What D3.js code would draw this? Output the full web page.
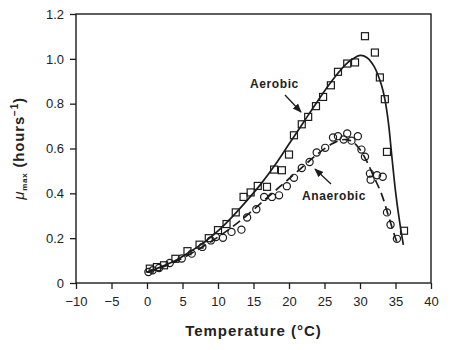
<!DOCTYPE html>
<html><head><meta charset="utf-8">
<script src="https://cdn.jsdelivr.net/npm/d3@7"></script>
<style>
html,body{margin:0;padding:0;background:#fff;}
svg{display:block;font-family:"Liberation Sans",Arial,sans-serif;}
</style></head>
<body><svg id="c" width="460" height="350"></svg>
<script>
// ---- data ----
const xTicks = [-10,-5,0,5,10,15,20,25,30,35,40];
const xTickLabels = ["\u221210","\u22125","0","5","10","15","20","25","30","35","40"];
const yTicks = [0,0.2,0.4,0.6,0.8,1.0,1.2];
const yTickLabels = ["0","0.2","0.4","0.6","0.8","1.0","1.2"];

const aerobicT  = [0.4,1.4,2.4,4.0,5.7,7.4,8.7,10.0,11.2,12.5,13.6,14.6,15.6,16.9,17.9,19.0,20.0,20.7,21.8,22.7,23.8,24.8,25.9,26.9,28.2,29.3,30.7,32.1,32.8,33.5,33.8,36.2];
const aerobicMu = [0.064,0.071,0.079,0.108,0.142,0.171,0.200,0.236,0.263,0.315,0.384,0.404,0.433,0.429,0.506,0.503,0.573,0.659,0.708,0.741,0.789,0.830,0.882,0.942,0.979,0.984,1.101,1.028,0.917,0.820,0.585,0.233];

const anaerobicT  = [0.2,0.8,1.7,3.2,4.9,6.3,7.8,9.0,9.7,10.7,11.9,13.3,14.1,15.4,16.5,17.6,18.6,19.7,20.7,21.8,22.9,23.9,25.1,26.2,26.9,27.7,28.2,28.8,29.7,30.2,30.7,31.4,31.5,32.4,33.2,33.8,34.3,35.2];
const anaerobicMu = [0.049,0.057,0.067,0.089,0.109,0.131,0.161,0.190,0.205,0.202,0.228,0.238,0.292,0.329,0.384,0.384,0.391,0.432,0.469,0.513,0.540,0.582,0.603,0.649,0.655,0.640,0.667,0.635,0.655,0.595,0.563,0.488,0.461,0.481,0.474,0.315,0.260,0.197];

// fitted curves
const aerobicFitT  = [0,2,4,6,8,10,12,14,16,18,20,22,24,26,28,29,30,31,32,33,33.5,34,34.5,35,35.5,36.1];
const aerobicFitMu = [0.048,0.072,0.100,0.138,0.180,0.232,0.295,0.365,0.440,0.525,0.620,0.715,0.810,0.900,0.975,1.000,1.015,1.005,0.965,0.885,0.820,0.715,0.560,0.410,0.290,0.170];
const anaerobicFitT  = [0,2,4,6,8,10,12,14,16,18,20,22,24,26,27,28,29,30,31,32,33,34,35,35.4];
const anaerobicFitMu = [0.048,0.068,0.095,0.128,0.165,0.205,0.250,0.300,0.355,0.410,0.465,0.520,0.575,0.620,0.635,0.640,0.630,0.595,0.540,0.470,0.400,0.300,0.200,0.165];

// ---- layout ----
const svg = d3.select("#c");
const L = 76, R = 431, T = 14, B = 283;
const x = d3.scaleLinear().domain([-10,40]).range([L,R]);
const y = d3.scaleLinear().domain([0,1.2]).range([B,T]);
const ink = "#1c1c1c";

// frame
svg.append("rect").attr("x",L).attr("y",T).attr("width",R-L).attr("height",B-T)
  .attr("fill","none").attr("stroke",ink).attr("stroke-width",1.4);

// axes
const xAxis = d3.axisBottom(x).tickValues(xTicks).tickSize(6).tickPadding(5)
  .tickFormat((d,i)=>xTickLabels[i]);
const gx = svg.append("g").attr("transform",`translate(0,${B})`).call(xAxis);
const yAxis = d3.axisLeft(y).tickValues(yTicks).tickSize(6).tickPadding(5)
  .tickFormat((d,i)=>yTickLabels[i]);
const gy = svg.append("g").attr("transform",`translate(${L},0)`).call(yAxis);
[gx,gy].forEach(g=>{
  g.select(".domain").remove();
  g.selectAll(".tick line").attr("stroke",ink).attr("stroke-width",1.3);
  g.selectAll(".tick text").attr("fill","#222").style("font-size","13px")
    .style("font-family","'Liberation Sans',Arial,sans-serif");
});
gx.selectAll(".tick text").attr("dy","0.9em");
gy.selectAll(".tick text").attr("dx","-1");

// curves
const line = d3.line().x(d=>x(d[0])).y(d=>y(d[1])).curve(d3.curveCatmullRom.alpha(0.5));
svg.append("path").datum(aerobicFitT.map((t,i)=>[t,aerobicFitMu[i]]))
  .attr("d",line).attr("fill","none").attr("stroke",ink).attr("stroke-width",1.7);
svg.append("path").datum(anaerobicFitT.map((t,i)=>[t,anaerobicFitMu[i]]))
  .attr("d",line).attr("fill","none").attr("stroke",ink).attr("stroke-width",1.7)
  .attr("stroke-dasharray","9,5");

// points
const s = 7;
svg.append("g").selectAll("rect").data(aerobicT.map((t,i)=>[t,aerobicMu[i]])).join("rect")
  .attr("x",d=>x(d[0])-s/2).attr("y",d=>y(d[1])-s/2).attr("width",s).attr("height",s)
  .attr("fill","none").attr("stroke",ink).attr("stroke-width",1.2);
svg.append("g").selectAll("circle").data(anaerobicT.map((t,i)=>[t,anaerobicMu[i]])).join("circle")
  .attr("cx",d=>x(d[0])).attr("cy",d=>y(d[1])).attr("r",3.6)
  .attr("fill","none").attr("stroke",ink).attr("stroke-width",1.2);

// annotations
const defs = svg.append("defs");
defs.append("marker").attr("id","ah").attr("viewBox","0 0 10 10").attr("refX",9).attr("refY",5)
  .attr("markerWidth",7).attr("markerHeight",7).attr("orient","auto")
  .append("path").attr("d","M0,1 L10,5 L0,9 Z").attr("fill",ink);
svg.append("text").attr("x",250).attr("y",88).text("Aerobic")
  .attr("fill","#222").style("font-size","12px").style("font-weight","bold").style("letter-spacing","0.6px");
svg.append("line").attr("x1",285).attr("y1",95).attr("x2",301).attr("y2",112)
  .attr("stroke",ink).attr("stroke-width",1.3).attr("marker-end","url(#ah)");
svg.append("text").attr("x",302).attr("y",200).text("Anaerobic")
  .attr("fill","#222").style("font-size","12px").style("font-weight","bold").style("letter-spacing","0.6px");
svg.append("line").attr("x1",331).attr("y1",184).attr("x2",315).attr("y2",169)
  .attr("stroke",ink).attr("stroke-width",1.3).attr("marker-end","url(#ah)");

// axis titles
svg.append("text").attr("x",(L+R)/2).attr("y",336).attr("text-anchor","middle")
  .attr("fill","#222").style("font-size","15px").style("font-weight","bold").style("letter-spacing","1px")
  .text("Temperature (\u00B0C)");
const yl = svg.append("text").attr("transform",`translate(24,${(T+B)/2}) rotate(-90)`)
  .attr("text-anchor","middle").attr("fill","#222").style("font-size","15px").style("letter-spacing","0.8px");
yl.append("tspan").text("\u03BC").style("font-style","italic");
yl.append("tspan").text("max").attr("dy","3").style("font-size","8px").style("font-weight","bold");
yl.append("tspan").text("  (hours").attr("dy","-3").style("font-weight","bold");
yl.append("tspan").text("\u22121").attr("dy","-6").style("font-size","10px").style("font-weight","bold");
yl.append("tspan").text(")").attr("dy","6").style("font-weight","bold");
</script></body></html>
